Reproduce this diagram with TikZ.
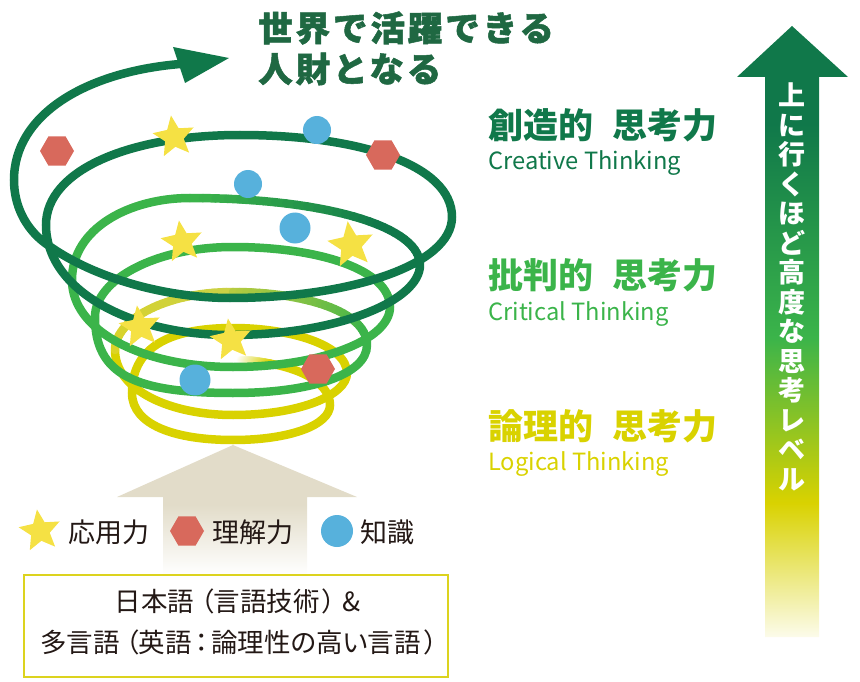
\documentclass[tikz,border=0pt]{standalone}
\usepackage{fontspec}
\setmainfont{Noto Sans CJK JP}
\newfontfamily\palt{Noto Sans CJK JP}[RawFeature={+palt}]
\newfontfamily\heavy{Noto Sans CJK JP}[BoldFeatures={FakeBold=1.5},LetterSpace=8.5]
\usetikzlibrary{shapes.geometric}
\definecolor{cdark}{HTML}{10784A}
\definecolor{cgreen}{HTML}{3BB44A}
\definecolor{cyell}{HTML}{D9D200}
\definecolor{ctitle}{HTML}{1F6842}
\definecolor{cstar}{HTML}{F5E144}
\definecolor{chex}{HTML}{D8695C}
\definecolor{cblue}{HTML}{57B1DC}
\definecolor{ctan}{HTML}{E2DCC9}
\definecolor{cbox}{HTML}{DCD31E}
\definecolor{cink}{HTML}{231815}
\definecolor{colive}{HTML}{B5CB40}
\definecolor{cpale}{HTML}{DFD64C}
\pgfdeclareverticalshading{risearrow}{100bp}{
  color(0bp)=(white); color(25bp)=(white!92!cyell); color(36bp)=(cyell);
  color(49.5bp)=(cgreen); color(67bp)=(cdark); color(100bp)=(cdark)}
\pgfdeclareverticalshading{tanarrow}{100bp}{
  color(0bp)=(white); color(25bp)=(white); color(52bp)=(ctan); color(100bp)=(ctan)}
% #1..#4 bezier points, #5 from colour, #6 to colour, #7 fraction where #6 is reached
\newcommand\gradbez[7]{%
  \foreach \i in {1,...,30}{%
    \pgfmathsetmacro\ta{(\i-1)/30}%
    \pgfmathsetmacro\tb{\i/30}%
    \pgfmathsetmacro\mixv{min(100,100*\ta/#7)}%
    \path #1 .. controls #2 and #3 .. #4 coordinate[pos=\ta](gu) coordinate[pos=\tb](gv);
    \draw[coil,color={#6!\mixv!#5},line cap=round] (gu)--(gv);
  }}
\tikzset{
  coil/.style={line width=8.5pt},
  starmark/.style={star,star points=5,star point ratio=2.2,fill=cstar,draw=none,inner sep=0pt,minimum size=43.5pt,shape border rotate=8},
  hexmark/.style={regular polygon,regular polygon sides=6,fill=chex,draw=none,inner sep=0pt,minimum size=34pt},
  dotmark/.style={circle,fill=cblue,draw=none,inner sep=0pt},
  head/.style={anchor=base west,inner sep=0pt,font=\fontsize{35}{35}\selectfont\bfseries},
  sub/.style={anchor=base west,inner sep=0pt,font=\fontsize{23.7}{23.7}\selectfont},
  legend/.style={anchor=base west,inner sep=0pt,text=cink,font=\fontsize{27}{27}\selectfont},
  title/.style={anchor=base west,inner sep=0pt,text=ctitle,font=\heavy\bfseries\fontsize{34.5}{34.5}\selectfont},
  boxtext/.style={inner sep=0pt,anchor=base,text=cink,font=\palt\fontsize{26.5}{26.5}\selectfont},
}
\begin{document}
\begin{tikzpicture}[x=1pt,y=-1pt]
\useasboundingbox (0,0) rectangle (860,682);
% big arrow right
\shade[shading=risearrow] (792,26) -- (848,77) -- (819,77) -- (819,637) -- (765,637) -- (765,77) -- (737,77) -- cycle;
\node[inner sep=0pt,anchor=north,align=center,text=white,font=\fontsize{27}{29.5}\selectfont\bfseries] (rise) at (792,83) {上\\に\\行\\く\\ほ\\ど\\高\\度\\な\\思\\考\\レ\\ベ\\ル};
% tan arrow
\shade[shading=tanarrow] (233,445) -- (357,497) -- (307,497) -- (307,575) -- (163,575) -- (163,497) -- (117,497) -- cycle;
% coil: yellow
\gradbez{(240,360)}{(250,360)}{(262,362)}{(272,364)}{white}{cyell}{1}
\draw[coil,cyell] (272,364) .. controls (305,370) and (330,385) .. (330,405)
  .. controls (330,425) and (290,440) .. (233,440)
  .. controls (175,440) and (132,425) .. (132,393)
  .. controls (132,350) and (165,328) .. (233,328)
  .. controls (290,328) and (347,345) .. (347,373)
  .. controls (347,395) and (300,415) .. (233,415)
  .. controls (170,415) and (115,390) .. (115,350);
\gradbez{(115,350)}{(115,320)}{(165,292)}{(233,292)}{cyell!50!cpale}{colive}{1}
\gradbez{(233,292)}{(300,292)}{(367,310)}{(367,345)}{colive}{cgreen}{0.85}
% coil: green
\draw[coil,cgreen] (367,345) .. controls (367,375) and (310,393) .. (233,393)
  .. controls (135,393) and (95,375) .. (95,317)
  .. controls (95,280) and (155,247) .. (233,247)
  .. controls (320,247) and (390,270) .. (390,307)
  .. controls (390,340) and (320,367) .. (233,367)
  .. controls (140,367) and (72,330) .. (72,280)
  .. controls (72,228) and (130,198) .. (190,198);
% coil: dark
\gradbez{(190,198)}{(320,198)}{(420,225)}{(420,265)}{cgreen}{cdark}{0.6}
\draw[coil,cdark] (420,265) .. controls (420,300) and (340,335) .. (230,335)
  .. controls (130,335) and (46,290) .. (46,225)
  .. controls (46,170) and (130,135) .. (240,135)
  .. controls (360,135) and (452,165) .. (452,217)
  .. controls (452,265) and (350,298) .. (230,298)
  .. controls (170,298) and (95,280) .. (45,243)
  .. controls (25,228) and (14,205) .. (14,180)
  .. controls (14,115) and (85,72) .. (180,64);
\fill[cdark] (229,58) -- (173,47) -- (185,83) -- cycle;
% marks
\node[hexmark] (h1) at (57,151) {};
\node[hexmark] (h2) at (383,155) {};
\node[hexmark] (h3) at (318,369) {};
\node[starmark] (s1) at (174,137) {};
\node[starmark] (s2) at (182,242) {};
\node[starmark,minimum size=48pt] (s3) at (351,245) {};
\node[starmark] (s4) at (140,327) {};
\node[starmark] (s5) at (231,340) {};
\node[dotmark,minimum size=28pt] (b1) at (317,130) {};
\node[dotmark,minimum size=28pt] (b2) at (248,184) {};
\node[dotmark,minimum size=31pt] (b3) at (295,228) {};
\node[dotmark,minimum size=31pt] (b4) at (195,380) {};
% title
\node[title] (t1) at (258,41) {世界で活躍できる};
\node[title] (t2) at (258,82) {人財となる};
% levels
\node[head,text=cdark] (l1) at (488,139) {創造的 \hspace{11pt}思考力};
\node[sub,text=cdark] (e1) at (488,170) {Creative Thinking};
\node[head,text=cgreen] (l2) at (488,288) {批判的 \hspace{11pt}思考力};
\node[sub,text=cgreen] (e2) at (488,320) {Critical Thinking};
\node[head,text=cyell] (l3) at (488,439) {論理的 \hspace{11pt}思考力};
\node[sub,text=cyell] (e3) at (488,470) {Logical Thinking};
% legend
\node[starmark] (ls) at (40,531) {};
\node[legend] (lt1) at (68,542) {応用力};
\node[hexmark] (lh) at (187,531) {};
\node[legend] (lt2) at (212,542) {理解力};
\node[dotmark,minimum size=32pt] (lb) at (337,531) {};
\node[legend] (lt3) at (360,542) {知識};
% box
\draw[cbox,line width=2.5pt,fill=white] (24,575) rectangle (448,677);
\node[boxtext] (bx1) at (238,611) {日本語\kern6pt（言語技術\kern3pt）\kern7pt\&};
\node[boxtext] (bx2) at (239,652) {多言語\kern6pt（英語\kern3pt：\kern3pt論理性の高い言語\kern4pt）};
\end{tikzpicture}
\end{document}
